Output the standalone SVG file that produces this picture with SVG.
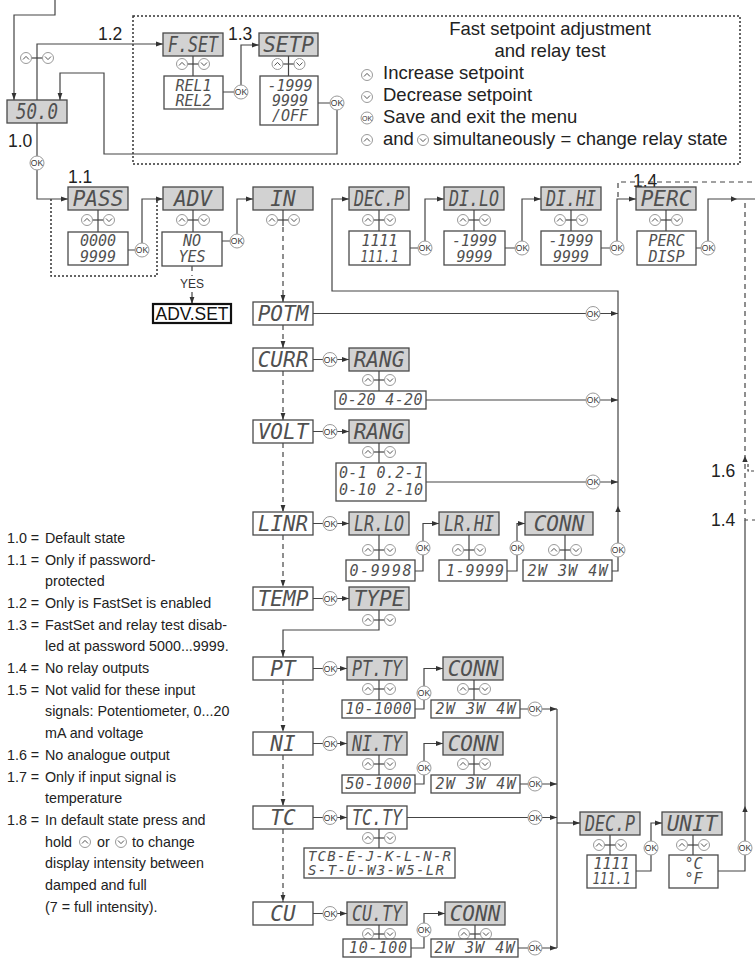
<svg xmlns="http://www.w3.org/2000/svg" width="755" height="964" viewBox="0 0 755 964">
<style>
.bx{fill:#fff;stroke:#4a4a4a;stroke-width:1.3}
.bg{fill:#d2d2d2;stroke:#4a4a4a;stroke-width:1.3}
.seg{font-family:"DejaVu Sans Mono","Liberation Mono",monospace;font-style:italic;font-size:21px;fill:#505050;text-anchor:middle}
.val{font-family:"DejaVu Sans Mono","Liberation Mono",monospace;font-style:italic;font-size:15px;fill:#505050;text-anchor:middle}
.ln{fill:none;stroke:#444;stroke-width:1.2}
.dl{stroke-dasharray:5 4}
.dt{fill:none;stroke:#333;stroke-width:1.5;stroke-dasharray:2 2}
.ok circle{fill:#fff;stroke:#9a9a9a;stroke-width:1}
.ok text{font-family:"Liberation Sans",Arial,sans-serif;font-size:8.5px;fill:#333;text-anchor:middle}
.lab{font-family:"Liberation Sans",Arial,sans-serif;font-size:17.5px;fill:#222}
.leg{font-family:"Liberation Sans",Arial,sans-serif;font-size:18.5px;fill:#222}
.note{font-family:"Liberation Sans",Arial,sans-serif;font-size:14.3px;fill:#222}
</style>
<defs>
<marker id="ah" viewBox="0 0 7 6" refX="7" refY="3" markerWidth="7" markerHeight="6" markerUnits="userSpaceOnUse" orient="auto"><path d="M0,0.6 L7,3 L0,5.4z" fill="#333"/></marker>
<g id="up"><circle r="5.5" fill="#fff" stroke="#9a9a9a" stroke-width="1"/><path d="M-3,1.5 L0,-1.6 L3,1.5" fill="none" stroke="#555" stroke-width="1"/></g>
<g id="dn"><circle r="5.5" fill="#fff" stroke="#9a9a9a" stroke-width="1"/><path d="M-3,-1.5 L0,1.6 L3,-1.5" fill="none" stroke="#555" stroke-width="1"/></g>
<g id="ud"><line x1="-5.5" y1="0" x2="5.5" y2="0" stroke="#444" stroke-width="1.2"/><use href="#up" x="-11"/><use href="#dn" x="11"/></g>
<path id="au" d="M0,0 L-2.7,6 L2.7,6z" fill="#333"/>
<path id="ar" d="M0,0 L-6,-2.7 L-6,2.7z" fill="#333"/>
</defs>

<!-- frames -->
<rect x="133" y="16" width="607" height="148" class="dt"/>
<path d="M51,199 V276 H157 V199" class="dt"/>

<!-- labels -->
<g id="labels">
<text class="lab" x="8" y="147">1.0</text>
<text class="lab" x="68" y="183">1.1</text>
<text class="lab" x="98" y="40">1.2</text>
<text class="lab" x="228" y="40">1.3</text>
<text class="lab" x="633" y="187">1.4</text>
<text class="lab" x="711" y="477">1.6</text>
<text class="lab" x="711" y="526">1.4</text>
<text class="leg" x="550" y="35" text-anchor="middle">Fast setpoint adjustment</text>
<text class="leg" x="550" y="57" text-anchor="middle">and relay test</text>
<use href="#up" x="367" y="75"/>
<text class="leg" x="383" y="79">Increase setpoint</text>
<use href="#dn" x="367" y="97"/>
<text class="leg" x="383" y="101">Decrease setpoint</text>
<g class="ok"><circle cx="367" cy="118" r="6"/><text x="367" y="121" style="font-size:7px">OK</text></g>
<text class="leg" x="383" y="123">Save and exit the menu</text>
<use href="#up" x="367" y="140"/>
<use href="#dn" x="423" y="140"/>
<text class="leg" x="383" y="145">and<tspan x="433">simultaneously = change relay state</tspan></text>
</g>

<g id="notes" class="note">
<text x="7" y="543">1.0 =<tspan x="45">Default state</tspan></text>
<text x="7" y="565">1.1 =<tspan x="45">Only if password-</tspan></text>
<text x="45" y="586">protected</text>
<text x="7" y="608">1.2 =<tspan x="45">Only is FastSet is enabled</tspan></text>
<text x="7" y="630">1.3 =<tspan x="45">FastSet and relay test disab-</tspan></text>
<text x="45" y="651">led at password 5000...9999.</text>
<text x="7" y="673">1.4 =<tspan x="45">No relay outputs</tspan></text>
<text x="7" y="695">1.5 =<tspan x="45">Not valid for these input</tspan></text>
<text x="45" y="716">signals: Potentiometer, 0...20</text>
<text x="45" y="738">mA and voltage</text>
<text x="7" y="760">1.6 =<tspan x="45">No analogue output</tspan></text>
<text x="7" y="782">1.7 =<tspan x="45">Only if input signal is</tspan></text>
<text x="45" y="803">temperature</text>
<text x="7" y="825">1.8 =<tspan x="45">In default state press and</tspan></text>
<text x="45" y="847">hold<tspan x="97">or</tspan><tspan x="132">to change</tspan></text>
<use href="#up" x="85" y="842"/>
<use href="#dn" x="121" y="842"/>
<text x="45" y="868">display intensity between</text>
<text x="45" y="890">damped and full</text>
<text x="45" y="912">(7 = full intensity).</text>
</g>

<!-- connectors -->
<g id="connectors">
<path class="ln" d="M55,0 V15 H14 V100" marker-end="url(#ah)"/>
<path class="ln" d="M37,100 V44 H163" marker-end="url(#ah)"/>
<use href="#ud" x="37" y="58"/>
<path class="ln" d="M37,123 V199 H68" marker-end="url(#ah)"/>
<path class="ln" d="M223,92 H241 V45 H259" marker-end="url(#ah)"/>
<path class="ln" d="M318,103 H337 V154 H104 V73 H60 V100" marker-end="url(#ah)"/>
<path class="ln" d="M128,250 H142 V199 H163" marker-end="url(#ah)"/>
<path class="ln" d="M222,241 H237 V199 H253" marker-end="url(#ah)"/>
<path class="ln dl" d="M192,266 V276"/>
<text x="192" y="288" text-anchor="middle" style="font-family:'Liberation Sans',Arial,sans-serif;font-size:12px;fill:#333">YES</text>
<path class="ln dl" d="M192,292 V304" marker-end="url(#ah)"/>
<path class="ln dl" d="M283,227 V302" marker-end="url(#ah)"/>
<path class="ln dl" d="M283,325 V348" marker-end="url(#ah)"/>
<path class="ln dl" d="M283,371 V420" marker-end="url(#ah)"/>
<path class="ln dl" d="M283,443 V512" marker-end="url(#ah)"/>
<path class="ln dl" d="M283,535 V587" marker-end="url(#ah)"/>
<path class="ln" d="M379,626 V630 H283 V657" marker-end="url(#ah)"/>
<path class="ln dl" d="M283,680 V732" marker-end="url(#ah)"/>
<path class="ln dl" d="M283,755 V806" marker-end="url(#ah)"/>
<path class="ln dl" d="M283,829 V902" marker-end="url(#ah)"/>
<path class="ln" d="M313,313.5 H618" marker-end="url(#ah)"/>
<path class="ln" d="M313,359.5 H349" marker-end="url(#ah)"/>
<path class="ln" d="M426,400 H618" marker-end="url(#ah)"/>
<path class="ln" d="M313,431.5 H349" marker-end="url(#ah)"/>
<path class="ln" d="M426,482 H618" marker-end="url(#ah)"/>
<path class="ln" d="M313,523.5 H349" marker-end="url(#ah)"/>
<path class="ln" d="M415,571 H423 V523.5 H439" marker-end="url(#ah)"/>
<path class="ln" d="M507,571 H517 V523.5 H525" marker-end="url(#ah)"/>
<path class="ln" d="M612,571 H618 V291 H332 V199 H349" marker-end="url(#ah)"/>
<use href="#au" x="618" y="506"/>
<path class="ln" d="M313,598.5 H349" marker-end="url(#ah)"/>
<path class="ln" d="M410,248 H425 V199 H444" marker-end="url(#ah)"/>
<path class="ln" d="M505,248 H522 V199 H541" marker-end="url(#ah)"/>
<path class="ln" d="M601,248 H617 V199 H636" marker-end="url(#ah)"/>
<path class="ln" d="M696,248 H708 V199 H755"/>
<use href="#ar" x="737" y="199"/>
<path class="ln dl" d="M618,197 V182 H755"/>
<path class="ln dl" d="M745,203 V520 H755"/>
<use href="#au" x="745" y="456"/>
<path class="ln" d="M748,464 V471 H754" stroke-dasharray="3 2"/>
<path class="ln" d="M745,520 V871 H718"/>
<use href="#au" x="745" y="806"/>
<path class="ln" d="M313,668.5 H347" marker-end="url(#ah)"/>
<path class="ln" d="M415,709 H424 V668.5 H443" marker-end="url(#ah)"/>
<path class="ln" d="M520,709 H557" marker-end="url(#ah)"/>
<path class="ln" d="M313,743.5 H347" marker-end="url(#ah)"/>
<path class="ln" d="M415,784 H424 V743.5 H443" marker-end="url(#ah)"/>
<path class="ln" d="M520,784 H557" marker-end="url(#ah)"/>
<path class="ln" d="M313,817.5 H347" marker-end="url(#ah)"/>
<path class="ln" d="M407,817.5 H557" marker-end="url(#ah)"/>
<path class="ln" d="M313,913.5 H347" marker-end="url(#ah)"/>
<path class="ln" d="M411,948 H424 V913.5 H445" marker-end="url(#ah)"/>
<path class="ln" d="M518,948 H557" marker-end="url(#ah)"/>
<path class="ln" d="M557,709 V948"/>
<path class="ln" d="M557,823 H580" marker-end="url(#ah)"/>
<path class="ln" d="M636,871 H651 V823 H662" marker-end="url(#ah)"/>
</g>

<g id="ok-buttons" class="ok">
<circle cx="37" cy="163" r="7"/><text x="37" y="166">OK</text>
<circle cx="241" cy="92" r="7"/><text x="241" y="95">OK</text>
<circle cx="337" cy="103" r="7"/><text x="337" y="106">OK</text>
<circle cx="142" cy="250" r="7"/><text x="142" y="253">OK</text>
<circle cx="237" cy="241" r="7"/><text x="237" y="244">OK</text>
<circle cx="425" cy="248" r="7"/><text x="425" y="251">OK</text>
<circle cx="522" cy="248" r="7"/><text x="522" y="251">OK</text>
<circle cx="617" cy="248" r="7"/><text x="617" y="251">OK</text>
<circle cx="708" cy="248" r="7"/><text x="708" y="251">OK</text>
<circle cx="593" cy="313.5" r="7"/><text x="593" y="316.5">OK</text>
<circle cx="330" cy="359.5" r="7"/><text x="330" y="362.5">OK</text>
<circle cx="593" cy="400" r="7"/><text x="593" y="403">OK</text>
<circle cx="330" cy="431.5" r="7"/><text x="330" y="434.5">OK</text>
<circle cx="593" cy="482" r="7"/><text x="593" y="485">OK</text>
<circle cx="330" cy="523.5" r="7"/><text x="330" y="526.5">OK</text>
<circle cx="423" cy="548" r="7"/><text x="423" y="551">OK</text>
<circle cx="517" cy="548" r="7"/><text x="517" y="551">OK</text>
<circle cx="618" cy="550" r="7"/><text x="618" y="553">OK</text>
<circle cx="330" cy="598.5" r="7"/><text x="330" y="601.5">OK</text>
<circle cx="330" cy="668.5" r="7"/><text x="330" y="671.5">OK</text>
<circle cx="424" cy="693" r="7"/><text x="424" y="696">OK</text>
<circle cx="535" cy="709" r="7"/><text x="535" y="712">OK</text>
<circle cx="330" cy="743.5" r="7"/><text x="330" y="746.5">OK</text>
<circle cx="424" cy="768" r="7"/><text x="424" y="771">OK</text>
<circle cx="535" cy="784" r="7"/><text x="535" y="787">OK</text>
<circle cx="330" cy="817.5" r="7"/><text x="330" y="820.5">OK</text>
<circle cx="535" cy="817.5" r="7"/><text x="535" y="820.5">OK</text>
<circle cx="330" cy="913.5" r="7"/><text x="330" y="916.5">OK</text>
<circle cx="424" cy="930" r="7"/><text x="424" y="933">OK</text>
<circle cx="535" cy="948" r="7"/><text x="535" y="951">OK</text>
<circle cx="651" cy="848" r="7"/><text x="651" y="851">OK</text>
<circle cx="745" cy="848" r="7"/><text x="745" y="851">OK</text>
</g>

<!-- nodes -->
<g id="n-s00"><rect class="bg" x="7" y="100" width="60" height="23"/><text class="seg" x="37" y="119" textLength="42" lengthAdjust="spacingAndGlyphs">50.0</text></g>
<g id="n-fset"><rect class="bg" x="163" y="33" width="60" height="23"/><text class="seg" x="193" y="52" textLength="50" lengthAdjust="spacingAndGlyphs">F.SET</text>
<line class="ln" x1="193" y1="56" x2="193" y2="76"/><use href="#ud" x="193" y="64"/>
<rect class="bx" x="164" y="76" width="59" height="33"/><text class="val" x="193.5" y="90.5">REL1</text><text class="val" x="193.5" y="105.5">REL2</text></g>
<g id="n-setp"><rect class="bg" x="259" y="33" width="59" height="23"/><text class="seg" x="288.5" y="52">SETP</text>
<line class="ln" x1="288.5" y1="56" x2="288.5" y2="76"/><use href="#ud" x="288.5" y="64"/>
<rect class="bx" x="260" y="76" width="58" height="49"/><text class="val" x="290" y="90.5">-1999</text><text class="val" x="290" y="105.5">9999</text><text class="val" x="290" y="120.5">/OFF</text></g>
<g id="n-pass"><rect class="bg" x="68" y="187" width="60" height="23"/><text class="seg" x="98" y="206">PASS</text>
<line class="ln" x1="98" y1="210" x2="98" y2="232"/><use href="#ud" x="98" y="220"/>
<rect class="bx" x="68" y="232" width="60" height="33"/><text class="val" x="98" y="246">0000</text><text class="val" x="98" y="262">9999</text></g>
<g id="n-adv"><rect class="bg" x="163" y="187" width="60" height="23"/><text class="seg" x="193" y="206">ADV</text>
<line class="ln" x1="193" y1="210" x2="193" y2="232"/><use href="#ud" x="193" y="220"/>
<rect class="bx" x="162" y="232" width="60" height="34"/><text class="val" x="192" y="246">NO</text><text class="val" x="192" y="262">YES</text></g>
<g id="n-advset"><rect x="153" y="304" width="78" height="19" fill="#fff" stroke="#111" stroke-width="2.2"/><text x="192" y="320" text-anchor="middle" textLength="73" lengthAdjust="spacingAndGlyphs" style="font-family:'Liberation Sans',Arial,sans-serif;font-size:18px;fill:#111">ADV.SET</text></g>
<g id="n-in"><rect class="bg" x="253" y="187" width="60" height="23"/><text class="seg" x="283" y="206">IN</text>
<line class="ln" x1="283" y1="210" x2="283" y2="226"/><use href="#ud" x="283" y="220"/></g>
<g id="n-decp"><rect class="bg" x="349" y="187" width="60" height="23"/><text class="seg" x="379" y="206" textLength="50" lengthAdjust="spacingAndGlyphs">DEC.P</text>
<line class="ln" x1="379" y1="210" x2="379" y2="231"/><use href="#ud" x="379" y="220"/>
<rect class="bx" x="349" y="231" width="61" height="34"/><text class="val" x="379.5" y="246">1111</text><text class="val" x="379.5" y="262" textLength="38" lengthAdjust="spacingAndGlyphs">111.1</text></g>
<g id="n-dilo"><rect class="bg" x="444" y="187" width="60" height="23"/><text class="seg" x="474" y="206" textLength="50" lengthAdjust="spacingAndGlyphs">DI.LO</text>
<line class="ln" x1="474" y1="210" x2="474" y2="231"/><use href="#ud" x="474" y="220"/>
<rect class="bx" x="444" y="231" width="61" height="34"/><text class="val" x="474.5" y="246">-1999</text><text class="val" x="474.5" y="262">9999</text></g>
<g id="n-dihi"><rect class="bg" x="541" y="187" width="60" height="23"/><text class="seg" x="571" y="206" textLength="50" lengthAdjust="spacingAndGlyphs">DI.HI</text>
<line class="ln" x1="571" y1="210" x2="571" y2="231"/><use href="#ud" x="571" y="220"/>
<rect class="bx" x="541" y="231" width="60" height="34"/><text class="val" x="571" y="246">-1999</text><text class="val" x="571" y="262">9999</text></g>
<g id="n-perc"><rect class="bg" x="636" y="187" width="60" height="23"/><text class="seg" x="666" y="206">PERC</text>
<line class="ln" x1="666" y1="210" x2="666" y2="231"/><use href="#ud" x="666" y="220"/>
<rect class="bx" x="637" y="231" width="59" height="34"/><text class="val" x="666.5" y="246">PERC</text><text class="val" x="666.5" y="262">DISP</text></g>
<g id="n-potm"><rect class="bx" x="253" y="302" width="60" height="23"/><text class="seg" x="283" y="321">POTM</text></g>
<g id="n-curr"><rect class="bx" x="253" y="348" width="60" height="23"/><text class="seg" x="283" y="367">CURR</text></g>
<g id="n-rang1"><rect class="bg" x="349" y="348" width="60" height="23"/><text class="seg" x="379" y="367">RANG</text>
<line class="ln" x1="379" y1="371" x2="379" y2="391"/><use href="#ud" x="379" y="380"/>
<rect class="bx" x="335" y="391" width="91" height="18"/><text class="val" x="380.5" y="405" textLength="84" lengthAdjust="spacing">0-20 4-20</text></g>
<g id="n-volt"><rect class="bx" x="253" y="420" width="60" height="23"/><text class="seg" x="283" y="439">VOLT</text></g>
<g id="n-rang2"><rect class="bg" x="349" y="420" width="60" height="23"/><text class="seg" x="379" y="439">RANG</text>
<line class="ln" x1="379" y1="443" x2="379" y2="463"/><use href="#ud" x="379" y="452"/>
<rect class="bx" x="336" y="463" width="90" height="38"/><text class="val" x="381" y="478" textLength="84" lengthAdjust="spacing">0-1 0.2-1</text><text class="val" x="381" y="495" textLength="84" lengthAdjust="spacing">0-10 2-10</text></g>
<g id="n-linr"><rect class="bx" x="253" y="512" width="60" height="23"/><text class="seg" x="283" y="531" textLength="50" lengthAdjust="spacingAndGlyphs">LINR</text></g>
<g id="n-lrlo"><rect class="bg" x="349" y="512" width="60" height="23"/><text class="seg" x="379" y="531" textLength="50" lengthAdjust="spacingAndGlyphs">LR.LO</text>
<line class="ln" x1="379" y1="535" x2="379" y2="560"/><use href="#ud" x="379" y="550"/>
<rect class="bx" x="346" y="560" width="69" height="21"/><text class="val" x="380.5" y="575.5" textLength="62" lengthAdjust="spacing">0-9998</text></g>
<g id="n-lrhi"><rect class="bg" x="439" y="512" width="60" height="23"/><text class="seg" x="469" y="531" textLength="50" lengthAdjust="spacingAndGlyphs">LR.HI</text>
<line class="ln" x1="469" y1="535" x2="469" y2="560"/><use href="#ud" x="469" y="550"/>
<rect class="bx" x="439" y="560" width="68" height="21"/><text class="val" x="475" y="575.5" textLength="58" lengthAdjust="spacing">1-9999</text></g>
<g id="n-conn1"><rect class="bg" x="525" y="512" width="68" height="23"/><text class="seg" x="559" y="531">CONN</text>
<line class="ln" x1="565" y1="535" x2="565" y2="560"/><use href="#ud" x="565" y="550"/>
<rect class="bx" x="523" y="560" width="89" height="21"/><text class="val" x="567.5" y="575.5" textLength="80" lengthAdjust="spacing">2W 3W 4W</text></g>
<g id="n-temp"><rect class="bx" x="253" y="587" width="60" height="23"/><text class="seg" x="283" y="606">TEMP</text></g>
<g id="n-type"><rect class="bg" x="349" y="587" width="60" height="23"/><text class="seg" x="379" y="606">TYPE</text>
<line class="ln" x1="379" y1="610" x2="379" y2="626"/><use href="#ud" x="379" y="620"/></g>
<g id="n-pt"><rect class="bx" x="253" y="657" width="60" height="23"/><text class="seg" x="283" y="676">PT</text></g>
<g id="n-ptty"><rect class="bg" x="347" y="657" width="60" height="23"/><text class="seg" x="377" y="676" textLength="50" lengthAdjust="spacingAndGlyphs">PT.TY</text>
<line class="ln" x1="379" y1="680" x2="379" y2="700"/><use href="#ud" x="379" y="689"/>
<rect class="bx" x="342" y="700" width="73" height="18"/><text class="val" x="378.5" y="714" textLength="66" lengthAdjust="spacing">10-1000</text></g>
<g id="n-conn2"><rect class="bg" x="443" y="657" width="60" height="23"/><text class="seg" x="473" y="676">CONN</text>
<line class="ln" x1="474" y1="680" x2="474" y2="700"/><use href="#ud" x="474" y="689"/>
<rect class="bx" x="431" y="700" width="89" height="18"/><text class="val" x="475.5" y="714" textLength="80" lengthAdjust="spacing">2W 3W 4W</text></g>
<g id="n-ni"><rect class="bx" x="253" y="732" width="60" height="23"/><text class="seg" x="283" y="751">NI</text></g>
<g id="n-nity"><rect class="bg" x="347" y="732" width="60" height="23"/><text class="seg" x="377" y="751" textLength="50" lengthAdjust="spacingAndGlyphs">NI.TY</text>
<line class="ln" x1="379" y1="755" x2="379" y2="775"/><use href="#ud" x="379" y="764"/>
<rect class="bx" x="342" y="775" width="73" height="18"/><text class="val" x="378.5" y="789" textLength="66" lengthAdjust="spacing">50-1000</text></g>
<g id="n-conn3"><rect class="bg" x="443" y="732" width="60" height="23"/><text class="seg" x="473" y="751">CONN</text>
<line class="ln" x1="474" y1="755" x2="474" y2="775"/><use href="#ud" x="474" y="764"/>
<rect class="bx" x="431" y="775" width="89" height="18"/><text class="val" x="475.5" y="789" textLength="80" lengthAdjust="spacing">2W 3W 4W</text></g>
<g id="n-tc"><rect class="bx" x="253" y="806" width="60" height="23"/><text class="seg" x="283" y="825">TC</text></g>
<g id="n-tcty"><rect class="bx" x="347" y="806" width="60" height="23"/><text class="seg" x="377" y="825" textLength="50" lengthAdjust="spacingAndGlyphs">TC.TY</text>
<line class="ln" x1="379" y1="829" x2="379" y2="848"/><use href="#ud" x="379" y="838"/>
<rect class="bx" x="304" y="848" width="151" height="30"/><text class="val" x="308" y="861" style="text-anchor:start;font-size:14px" textLength="143" lengthAdjust="spacing">TCB-E-J-K-L-N-R</text><text class="val" x="308" y="875" style="text-anchor:start;font-size:14px" textLength="136" lengthAdjust="spacing">S-T-U-W3-W5-LR</text></g>
<g id="n-cu"><rect class="bx" x="253" y="902" width="60" height="23"/><text class="seg" x="283" y="921">CU</text></g>
<g id="n-cuty"><rect class="bg" x="347" y="902" width="60" height="23"/><text class="seg" x="377" y="921" textLength="50" lengthAdjust="spacingAndGlyphs">CU.TY</text>
<line class="ln" x1="379" y1="925" x2="379" y2="939"/><use href="#ud" x="379" y="934"/>
<rect class="bx" x="343" y="939" width="68" height="18"/><text class="val" x="378" y="953" textLength="58" lengthAdjust="spacing">10-100</text></g>
<g id="n-conn4"><rect class="bg" x="445" y="902" width="60" height="23"/><text class="seg" x="475" y="921">CONN</text>
<line class="ln" x1="475" y1="925" x2="475" y2="939"/><use href="#ud" x="475" y="934"/>
<rect class="bx" x="431" y="939" width="87" height="18"/><text class="val" x="474.5" y="953" textLength="80" lengthAdjust="spacing">2W 3W 4W</text></g>
<g id="n-decp2"><rect class="bg" x="580" y="812" width="60" height="23"/><text class="seg" x="610" y="831" textLength="50" lengthAdjust="spacingAndGlyphs">DEC.P</text>
<line class="ln" x1="610" y1="835" x2="610" y2="855"/><use href="#ud" x="610" y="845"/>
<rect class="bx" x="587" y="855" width="49" height="33"/><text class="val" x="611.5" y="869">1111</text><text class="val" x="611.5" y="884" textLength="38" lengthAdjust="spacingAndGlyphs">111.1</text></g>
<g id="n-unit"><rect class="bg" x="662" y="812" width="60" height="23"/><text class="seg" x="692" y="831">UNIT</text>
<line class="ln" x1="693" y1="835" x2="693" y2="855"/><use href="#ud" x="693" y="845"/>
<rect class="bx" x="669" y="855" width="49" height="33"/><text class="val" x="693.5" y="869">°C</text><text class="val" x="693.5" y="884">°F</text></g>
</svg>
